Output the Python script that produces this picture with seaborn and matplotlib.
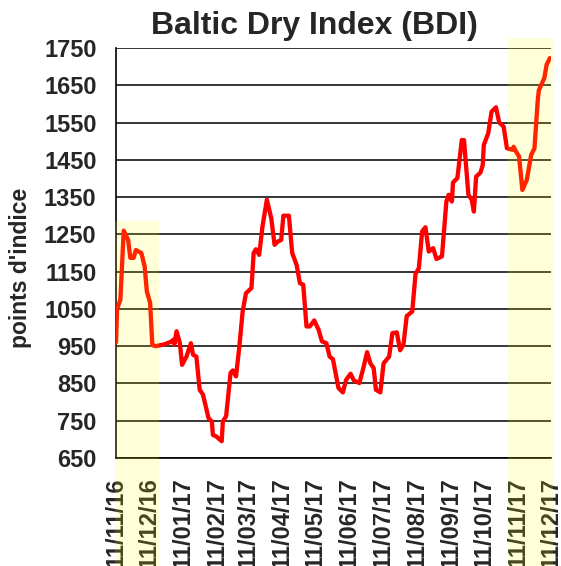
import pandas as pd
import seaborn as sns
import matplotlib.pyplot as plt
import matplotlib.dates as mdates

# jours depuis le 11/11/2016 et valeurs
days = [0, 1, 4, 7, 11, 13, 16, 18, 23, 26, 28, 31, 33, 36, 44, 50, 52, 53, 55,
        58, 60, 64, 68, 70, 73, 76, 79, 84, 87, 88, 91, 96, 97, 100, 104, 106,
        109, 112, 115, 118, 123, 125, 127, 130, 133, 137, 141, 144, 147, 150,
        152, 157, 160, 164, 167, 170, 173, 176, 180, 184, 187, 191, 194, 197,
        202, 206, 209, 213, 216, 221, 225, 228, 231, 234, 236, 240, 243, 248,
        251, 255, 258, 261, 264, 269, 272, 275, 278, 281, 284, 288, 291, 296,
        300, 302, 305, 306, 310, 314, 316, 320, 323, 325, 327, 331, 333, 334,
        338, 341, 345, 348, 352, 355, 360, 361, 364, 366, 369, 373, 377, 380,
        383, 384, 389, 391, 394]
bdi = [960, 1050, 1075, 1260, 1235, 1187, 1187, 1208, 1200, 1164, 1097, 1066,
       953, 950, 955, 962, 967, 955, 990, 958, 900, 922, 958, 927, 922, 833,
       820, 757, 748, 712, 708, 695, 748, 762, 878, 885, 869, 949, 1043, 1092,
       1106, 1200, 1210, 1195, 1271, 1343, 1293, 1222, 1231, 1235, 1300, 1300,
       1200, 1168, 1119, 1115, 1003, 1003, 1019, 994, 963, 958, 922, 915, 838,
       826, 860, 876, 858, 851, 896, 934, 904, 891, 833, 826, 904, 922, 985,
       987, 939, 954, 1031, 1043, 1144, 1159, 1258, 1269, 1204, 1213, 1184,
       1191, 1338, 1356, 1338, 1389, 1401, 1503, 1503, 1356, 1343, 1311, 1405,
       1416, 1436, 1490, 1521, 1579, 1591, 1550, 1539, 1481, 1477, 1485, 1468,
       1459, 1369, 1396, 1463, 1481, 1611, 1637, 1670, 1705, 1723]

start = pd.Timestamp("2016-11-11")
tick_dates = pd.date_range(start, periods=14, freq=pd.DateOffset(months=1))
yticks = list(range(650, 1751, 100))

df = pd.DataFrame({"date": start + pd.to_timedelta(days, unit="D"), "bdi": bdi})

sns.set_style("white")
plt.rcParams["font.family"] = ["Liberation Sans", "DejaVu Sans"]
plt.rcParams["font.weight"] = "bold"

fig = plt.figure(figsize=(5.61, 5.66), dpi=100)
ax = fig.add_axes([116 / 561, 1 - 458 / 566, 435 / 561, 410 / 566])

sns.lineplot(data=df, x="date", y="bdi", color="#ff0000", linewidth=3.1,
             ax=ax, zorder=3)
ax.lines[0].set_solid_joinstyle("round")
ax.lines[0].set_solid_capstyle("round")

ax.set_xlim(start, tick_dates[-1])
ax.set_ylim(650, 1750)
ax.set_yticks(yticks)
ax.set_xticks(tick_dates)
ax.xaxis.set_major_formatter(mdates.DateFormatter("%d/%m/%y"))
ax.tick_params(axis="x", direction="out", length=6, width=1.2, color="black",
               pad=8, labelsize=17, labelrotation=90)
ax.tick_params(axis="y", length=0, pad=14, labelsize=17)
for lab in ax.get_xticklabels() + ax.get_yticklabels():
    lab.set_fontweight("bold")

ax.yaxis.grid(True, color="black", linewidth=1.1)
ax.set_axisbelow(True)
ax.set_xlabel("")
ax.set_ylabel("")
for side in ["top", "right"]:
    ax.spines[side].set_visible(False)
for side in ["left", "bottom"]:
    ax.spines[side].set_color("black")
    ax.spines[side].set_linewidth(1.2)

# zones surlignées
ax.axvspan(start - pd.Timedelta(days=1), start + pd.Timedelta(days=39),
           ymin=-0.27, ymax=(1286 - 650) / 1100, color="yellow", alpha=0.15,
           lw=0, clip_on=False, zorder=5)
ax.axvspan(start + pd.Timedelta(days=356), start + pd.Timedelta(days=397),
           ymin=-0.27, ymax=1.025, color="yellow", alpha=0.15,
           lw=0, clip_on=False, zorder=5)

fig.text(314.5 / 561, 1 - 34 / 566, "Baltic Dry Index (BDI)", ha="center",
         va="baseline", fontsize=23, fontweight="bold")
fig.text(21 / 561, 1 - 268 / 566, "points d'indice", ha="center", va="center",
         rotation=90, fontsize=16.5, fontweight="bold")

fig.savefig("out.png", dpi=100)
